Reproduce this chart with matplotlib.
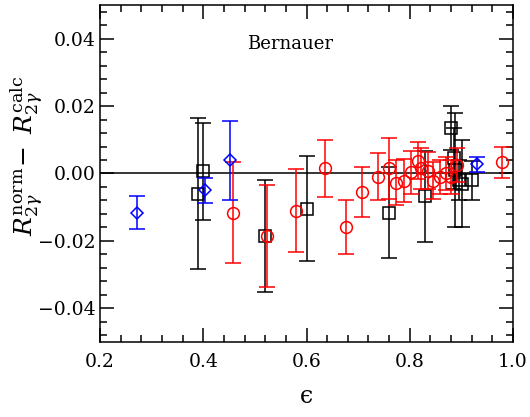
import numpy as np
import matplotlib
matplotlib.use('Agg')
import matplotlib.pyplot as plt
from matplotlib.ticker import MultipleLocator

plt.rcParams['font.family'] = 'DejaVu Serif'
plt.rcParams['mathtext.fontset'] = 'dejavuserif'

#%% data
# blue diamonds
eps_blue = [0.272, 0.403, 0.452, 0.930]
dr_blue = [-0.0116, -0.0050, 0.0039, 0.0027]
err_blue = [0.0050, 0.0037, 0.0118, 0.0022]

# black squares
eps_black = [0.390, 0.400, 0.520, 0.600, 0.760, 0.830, 0.880, 0.885, 0.888, 0.895, 0.902, 0.920]
dr_black = [-0.0060, 0.0006, -0.0186, -0.0104, -0.0116, -0.0068, 0.0135, 0.0045, 0.0010, -0.0020, -0.0030, -0.0020]
err_black = [0.0224, 0.0145, 0.0166, 0.0157, 0.0135, 0.0136, 0.0065, 0.0090, 0.0170, 0.0060, 0.0130, 0.0058]

# red circles
eps_red = [0.457, 0.523, 0.580, 0.636, 0.677, 0.708, 0.739, 0.760, 0.774, 0.789, 0.802,
           0.816, 0.821, 0.835, 0.845, 0.858, 0.870, 0.879, 0.891, 0.979]
dr_red = [-0.0116, -0.0186, -0.0110, 0.0015, -0.0160, -0.0056, -0.0009, 0.0015, -0.0027, -0.0021, 0.0003,
          0.0038, 0.0015, 0.0008, -0.0021, -0.0011, 0.0000, -0.0011, 0.0026, 0.0033]
err_red = [0.0150, 0.0152, 0.0123, 0.0085, 0.0080, 0.0074, 0.0070, 0.0090, 0.0067, 0.0065, 0.0065,
           0.0055, 0.0060, 0.0055, 0.0055, 0.0050, 0.0050, 0.0050, 0.0050, 0.0046]

#%% plot
fig = plt.figure(figsize=(5.30, 4.17), dpi=100)
ax = fig.add_axes([0.1887, 0.180, 0.7793, 0.808])

ax.axhline(0.0, color='black', lw=1.1, zorder=1)

ax.errorbar(eps_black, dr_black, yerr=err_black, fmt='s', color='black', mfc='none',
            ms=8, mew=1.1, elinewidth=1.1, capsize=6, capthick=1.1, zorder=2)
ax.errorbar(eps_red, dr_red, yerr=err_red, fmt='o', color='red', mfc='none',
            ms=8.5, mew=1.1, elinewidth=1.1, capsize=6, capthick=1.1, zorder=3)
ax.errorbar(eps_blue, dr_blue, yerr=err_blue, fmt='D', color='blue', mfc='none',
            ms=6, mew=1.1, elinewidth=1.1, capsize=6, capthick=1.1, zorder=4)

ax.set_xlim(0.2, 1.0)
ax.set_ylim(-0.05, 0.05)
ax.xaxis.set_major_locator(MultipleLocator(0.2))
ax.xaxis.set_minor_locator(MultipleLocator(0.04))
ax.yaxis.set_major_locator(MultipleLocator(0.02))
ax.yaxis.set_minor_locator(MultipleLocator(0.004))
ax.tick_params(which='both', direction='in', top=True, right=True, labelsize=13.5, width=1.1)
ax.tick_params(which='major', length=10)
ax.tick_params(which='minor', length=5)
ax.xaxis.set_major_formatter(matplotlib.ticker.FormatStrFormatter('%.1f'))
ax.yaxis.set_major_formatter(matplotlib.ticker.FuncFormatter(
    lambda v, p: ('%.2f' % v).replace('-', '\u2212')))
for s in ax.spines.values():
    s.set_linewidth(1.1)
ax.tick_params(axis='x', pad=8)

ax.set_xlabel('\u03f5', fontsize=17, labelpad=10)
# y label placed by hand so it stays inside the figure
fig.text(0.052, 0.625, r'$R_{2\gamma}^{\rm norm}\!-\ R_{2\gamma}^{\rm calc}$',
         fontsize=18, rotation=90, ha='center', va='center')
ax.text(0.568, 0.0385, 'Bernauer', fontsize=13, ha='center', va='center')

plt.savefig('out.png', dpi=100)
